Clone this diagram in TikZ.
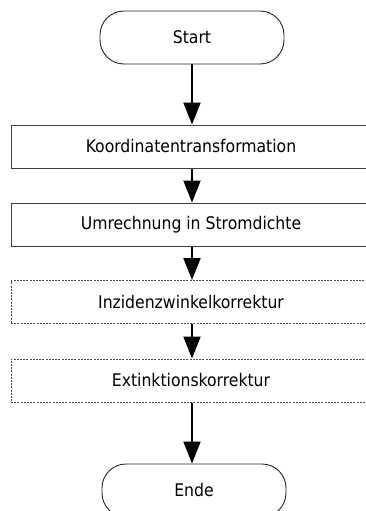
\documentclass[tikz,border=0pt]{standalone}
\usepackage{fontspec}
\setmainfont{DejaVu Sans Condensed}
\usetikzlibrary{arrows.meta}
\begin{document}
\begin{tikzpicture}[x=1pt,y=-1pt,
  every node/.style={font=\fontsize{17.4}{19}\selectfont, inner sep=0pt},
  term/.style={draw=black!85, line width=0.9pt, rounded corners=24pt,
    minimum width=184pt, minimum height=53pt},
  procbox/.style={draw=black!75, line width=1pt,
    minimum width=360pt, minimum height=43pt},
  optbox/.style={procbox, draw=black!70, dash pattern=on 2pt off 1.2pt},
  flow/.style={line width=2pt, -{Triangle[length=22pt,width=17pt]}}]
\useasboundingbox (0,0) rectangle (366,511);
\node[term]    (start) at (192,37.5)  {Start};
\node[procbox] (koord) at (191,146.5) {Koordinatentransformation};
\node[procbox] (umr)   at (191,224.5) {Umrechnung in Stromdichte};
\node[optbox]  (inz)   at (191,302)   {Inzidenzwinkelkorrektur};
\node[optbox]  (ext)   at (191,380.5) {Extinktionskorrektur};
\node[term]    (ende)  at (194,490.5) {Ende};
\draw[flow] (start.south -| 192,0) -- (koord.north -| 192,0);
\draw[flow] (koord.south -| 192,0) -- (umr.north -| 192,0);
\draw[flow] (umr.south -| 192,0) -- (inz.north -| 192,0);
\draw[flow] (inz.south -| 192,0) -- (ext.north -| 192,0);
\draw[flow] (ext.south -| 192,0) -- (ende.north -| 192,0);
\end{tikzpicture}
\end{document}
